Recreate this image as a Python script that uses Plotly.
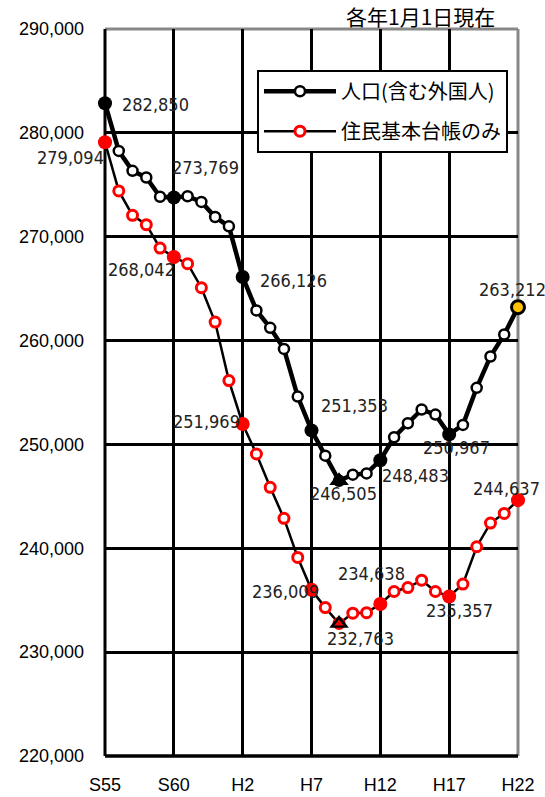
import plotly.graph_objects as go

# ---------------- data ----------------
years = list(range(1980, 2011))
tick_years = [1980, 1985, 1990, 1995, 2000, 2005, 2010]
tick_labels = ["S55", "S60", "H2", "H7", "H12", "H17", "H22"]

pop_total = [282850, 278260, 276340, 275700, 273850, 273769, 273900, 273350, 271900, 271000,
             266126, 262900, 261230, 259200, 254610, 251353, 248920, 246505, 247090, 247210,
             248483, 250690, 252040, 253360, 252870, 250967, 251880, 255450, 258470, 260590,
             263212]
pop_resident = [279094, 274410, 272060, 271160, 268910, 268042, 267400, 265090, 261780, 256150,
                251969, 249080, 245870, 242880, 239120, 236009, 234290, 232763, 233750, 233800,
                234638, 235840, 236220, 236930, 235840, 235357, 236550, 240150, 242430, 243360,
                244637]

name_total = "人口(含む外国人)"
name_resident = "住民基本台帳のみ"
note_text = "各年1月1日現在"

key_years_total = [1980, 1985, 1990, 1995, 2000, 2005]
min_year = 1997
last_year = 2010
key_years_resident = [1980, 1985, 1990, 1995, 2000, 2005, 2010]
label_years = [1980, 1985, 1990, 1995, 1997, 2000, 2005, 2010]

# label offsets in screen px (dx right, dy down) - style only
off_total = {1980: (50, 1), 1985: (32, -30), 1990: (51, 4), 1995: (43, -25),
             1997: (4, 13), 2000: (35, 15), 2005: (7, 13), 2010: (-6, -18)}
off_res = {1980: (-35, 15), 1985: (-32, 12), 1990: (-36, -2), 1995: (-26, 2),
           1997: (21, 15), 2000: (-9, -30), 2005: (10, 14), 2010: (-12, -12)}


def val(series, y):
    return series[years.index(y)]


LBL_FONT = dict(family="Liberation Sans Narrow, DejaVu Sans Condensed, Roboto, sans-serif",
                size=18, color="#222222")
AX_FONT = dict(family="Liberation Sans, Arial, sans-serif", size=18, color="black")
CJK = "Noto Sans CJK JP, sans-serif"

fig = go.Figure()

# resident series (thin black line, red open circles)
fig.add_trace(go.Scatter(
    x=years, y=pop_resident, mode="lines+markers", name=name_resident,
    line=dict(color="black", width=2.5),
    marker=dict(symbol="circle", size=10, color="white", line=dict(color="#ff0000", width=3)),
    cliponaxis=False, legendgroup="b", legendrank=2))
fig.add_trace(go.Scatter(
    x=key_years_resident, y=[val(pop_resident, y) for y in key_years_resident],
    mode="markers", showlegend=False,
    marker=dict(symbol="circle", size=14, color="#ff0000", line=dict(width=0)),
    cliponaxis=False))
fig.add_trace(go.Scatter(
    x=[min_year], y=[val(pop_resident, min_year)], mode="markers", showlegend=False,
    marker=dict(symbol="triangle-up", size=17, color="black", line=dict(width=0)),
    cliponaxis=False))
fig.add_trace(go.Scatter(
    x=[min_year], y=[val(pop_resident, min_year)], mode="markers", showlegend=False,
    marker=dict(symbol="triangle-up", size=8, color="#ff0000", line=dict(width=0)),
    cliponaxis=False))

# total population series (thick black line, black open circles)
fig.add_trace(go.Scatter(
    x=years, y=pop_total, mode="lines+markers", name=name_total,
    line=dict(color="black", width=4.5),
    marker=dict(symbol="circle", size=10, color="white", line=dict(color="black", width=2.5)),
    cliponaxis=False, legendgroup="a", legendrank=1))
fig.add_trace(go.Scatter(
    x=key_years_total, y=[val(pop_total, y) for y in key_years_total],
    mode="markers", showlegend=False,
    marker=dict(symbol="circle", size=14, color="black", line=dict(width=0)),
    cliponaxis=False))
fig.add_trace(go.Scatter(
    x=[min_year], y=[val(pop_total, min_year)], mode="markers", showlegend=False,
    marker=dict(symbol="triangle-up", size=17, color="black", line=dict(width=0)),
    cliponaxis=False))
fig.add_trace(go.Scatter(
    x=[last_year], y=[val(pop_total, last_year)], mode="markers", showlegend=False,
    marker=dict(symbol="circle", size=13, color="#ffc000", line=dict(color="black", width=3)),
    cliponaxis=False))

annotations = []
for y in label_years:
    for series, offs in ((pop_total, off_total), (pop_resident, off_res)):
        v = val(series, y)
        dx, dy = offs[y]
        annotations.append(dict(x=y, y=v, xref="x", yref="y", text=f"{v:,}",
                                showarrow=False, xshift=dx, yshift=-dy,
                                xanchor="center", yanchor="middle",
                                font=LBL_FONT))

annotations.append(dict(x=0.764, y=1.0, xref="paper", yref="paper",
                        xanchor="center", yanchor="bottom",
                        yshift=-4, text=note_text, showarrow=False,
                        font=dict(family=CJK, size=21, color="black")))

shapes = [
    dict(type="line", xref="paper", yref="paper", x0=0, x1=1, y0=1, y1=1,
         line=dict(color="#888888", width=3), layer="between"),
    dict(type="line", xref="paper", yref="paper", x0=1, x1=1, y0=0, y1=1,
         line=dict(color="#888888", width=3), layer="between"),
    dict(type="line", xref="paper", yref="paper", x0=0, x1=0, y0=0, y1=1,
         line=dict(color="black", width=3), layer="between"),
    dict(type="line", xref="paper", yref="paper", x0=0, x1=1, y0=0, y1=0,
         line=dict(color="black", width=3.5), layer="between"),
]

fig.update_layout(
    width=545, height=797,
    margin=dict(l=105, r=27, t=29, b=41, autoexpand=False),
    paper_bgcolor="white", plot_bgcolor="white",
    showlegend=True,
    legend=dict(x=0.368, xanchor="left", y=0.944, yanchor="top",
                bgcolor="white", bordercolor="black", borderwidth=2,
                font=dict(family=CJK, size=20, color="black"),
                tracegroupgap=11, itemwidth=72, traceorder="grouped"),
    annotations=annotations,
    shapes=shapes,
    xaxis=dict(range=[1980, 2010], tickvals=tick_years, ticktext=tick_labels,
               showgrid=True, gridcolor="black", gridwidth=3, zeroline=False,
               showline=False, ticks="", ticklabelstandoff=16, tickfont=AX_FONT,
               automargin=False),
    yaxis=dict(range=[220000, 290000], dtick=10000, tickformat=",",
               showgrid=True, gridcolor="black", gridwidth=3, zeroline=False,
               showline=False, ticks="", ticklabelstandoff=20, tickfont=AX_FONT,
               automargin=False),
)

fig.write_html("out.html", config={"displayModeBar": False},
               post_script="document.body.style.margin='0';document.body.style.padding='0';")
